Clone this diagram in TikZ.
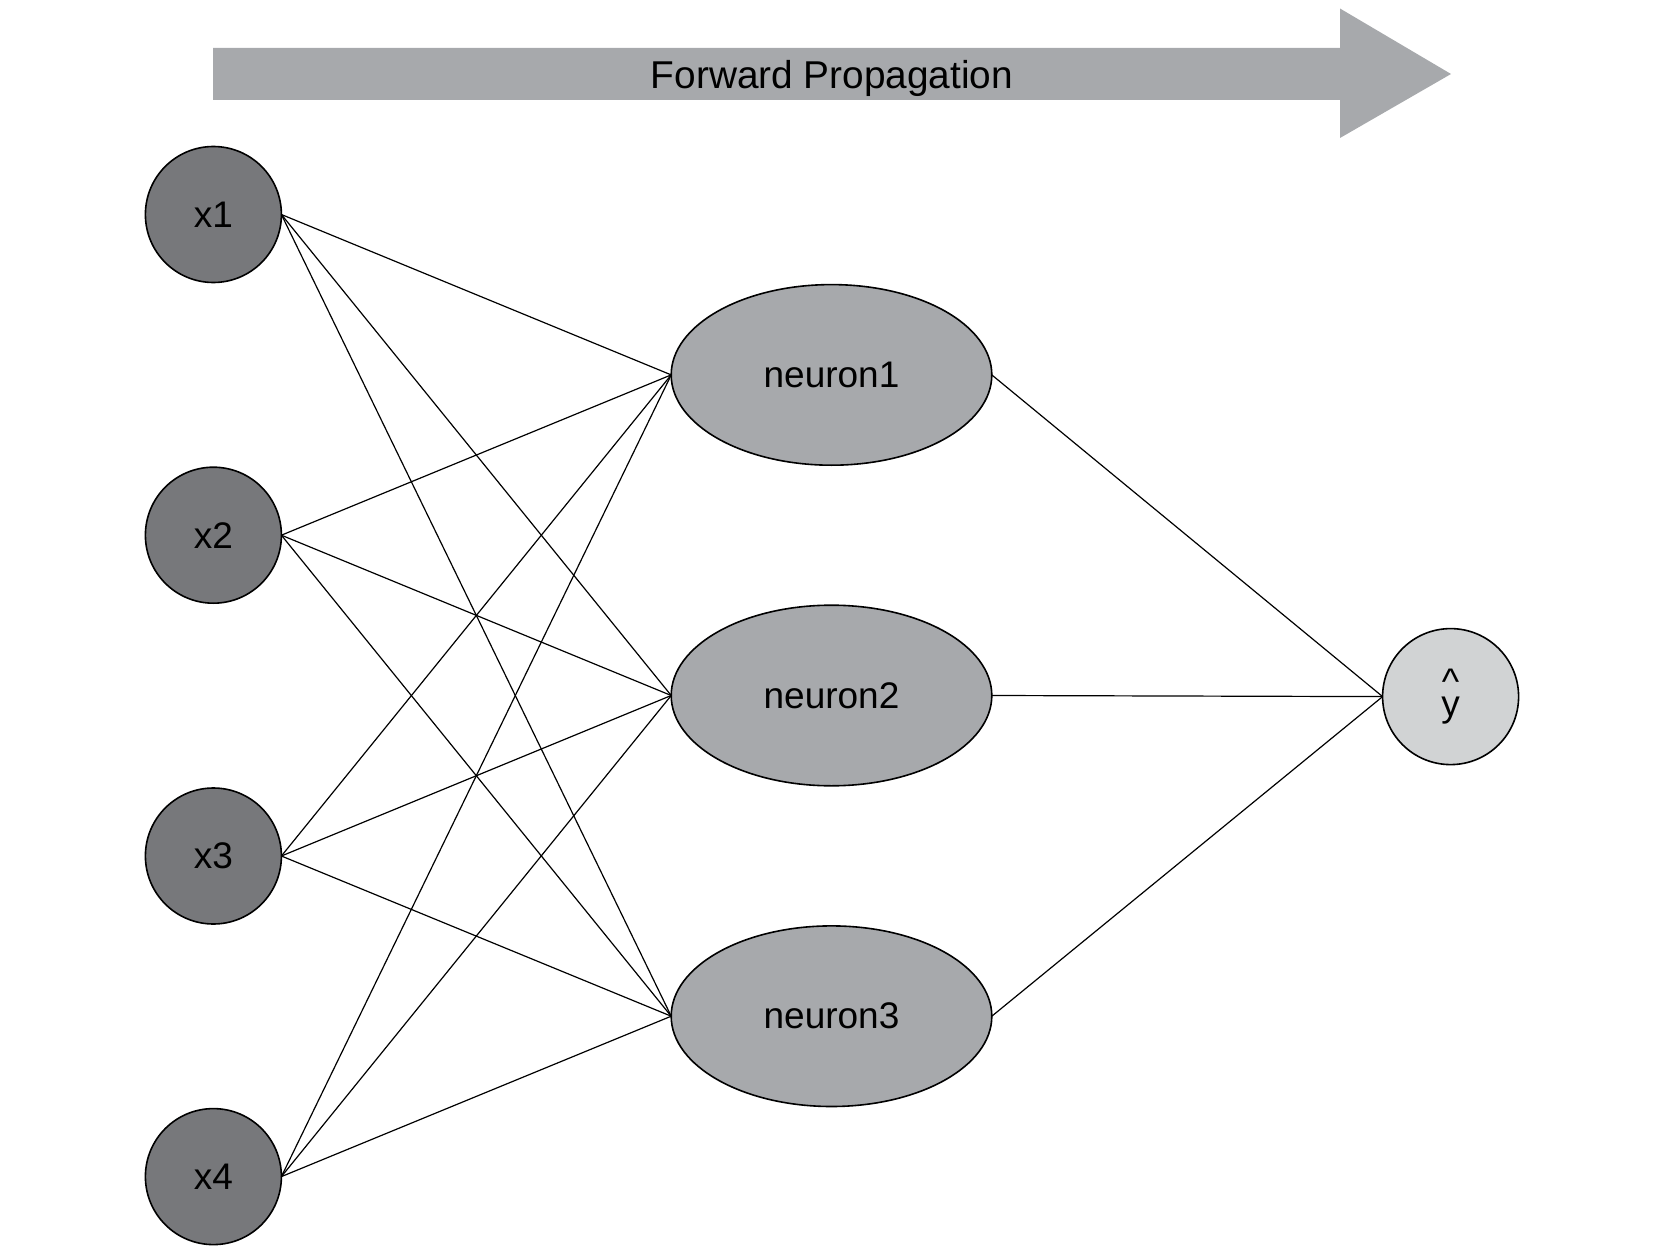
\documentclass[tikz,border=0pt]{standalone}
\usepackage{fontspec}
\setmainfont{Liberation Sans}
\usetikzlibrary{shapes.geometric}
\definecolor{indark}{HTML}{77787B}
\definecolor{neuronfill}{HTML}{A7A9AC}
\definecolor{outfill}{HTML}{D1D3D4}
\definecolor{arrowfill}{HTML}{A7A9AC}
\begin{document}
\begin{tikzpicture}[x=0.5pt,y=-0.5pt,
  innode/.style={circle, draw=black, line width=0.8pt, fill=indark, minimum size=68pt, inner sep=0pt, outer sep=0pt, font=\fontsize{18.5}{22}\selectfont},
  neuron/.style={ellipse, draw=black, line width=0.8pt, fill=neuronfill, minimum width=160.3pt, minimum height=90.3pt, inner sep=0pt, outer sep=0pt, font=\fontsize{18.5}{22}\selectfont},
  outnode/.style={circle, draw=black, line width=0.8pt, fill=outfill, minimum size=68pt, inner sep=0pt, outer sep=0pt, align=center, font=\fontsize{18.5}{11}\selectfont},
  edge/.style={draw=black, line width=0.6pt}
]
\useasboundingbox (0,0) rectangle (1665,1257);
% forward propagation arrow
\fill[arrowfill] (213,48) -- (1340,48) -- (1340,8.5) -- (1451,74) -- (1340,138) -- (1340,100) -- (213,100) -- cycle;
\node[font=\fontsize{19.4}{22}\selectfont] (fp) at (832,78) {Forward Propagation};
% nodes
\node[innode] (x1) at (213.4,214.5) {x1};
\node[innode] (x2) at (213.4,535.2) {x2};
\node[innode] (x3) at (213.4,856) {x3};
\node[innode] (x4) at (213.4,1176.6) {x4};
\node[neuron] (n1) at (831.5,374.9) {neuron1};
\node[neuron] (n2) at (831.5,695.5) {neuron2};
\node[neuron] (n3) at (831.5,1016.2) {neuron3};
\node[outnode] (y) at (1450.6,696.6) {\textasciicircum\\y};
% edges
\foreach \i in {x1,x2,x3,x4}{
  \foreach \j in {n1,n2,n3}{
    \draw[edge] (\i.east) -- (\j.west);
  }
}
\foreach \j in {n1,n2,n3}{
  \draw[edge] (\j.east) -- (y.west);
}
\end{tikzpicture}
\end{document}
